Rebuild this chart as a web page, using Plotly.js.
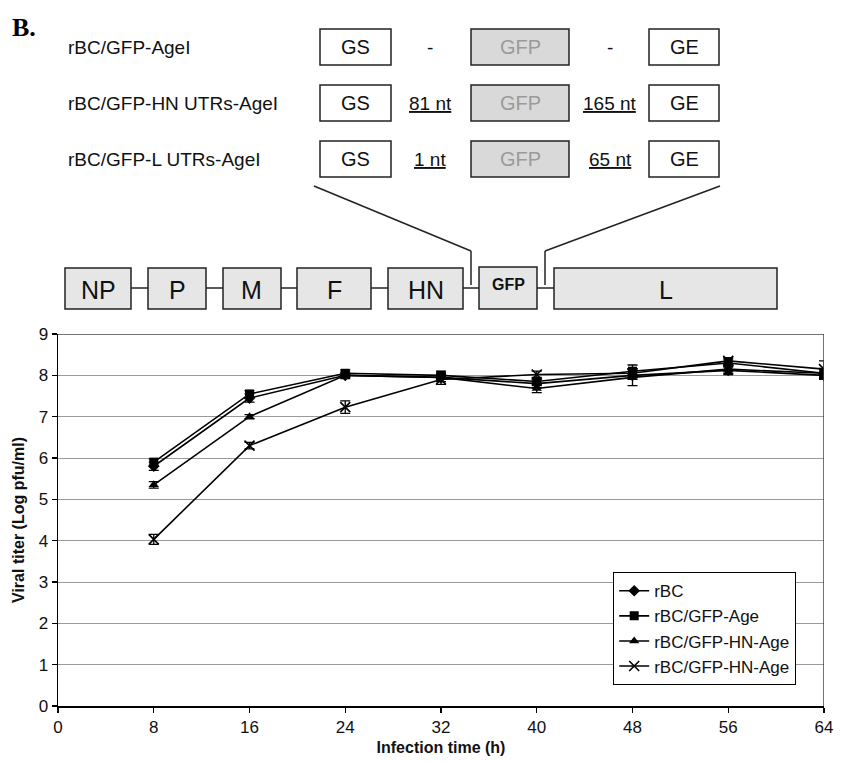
<!DOCTYPE html>
<html>
<head>
<meta charset="utf-8">
<script src="https://cdn.plot.ly/plotly-3.0.1.min.js"></script>
<style>html,body{margin:0;padding:0;background:#fff;}#chart{width:844px;height:761px;}</style>
</head>
<body>
<div id="chart"></div>
<script>
// ---- data ----
var times = [8, 16, 24, 32, 40, 48, 56, 64];
var seriesNames = ["rBC", "rBC/GFP-Age", "rBC/GFP-HN-Age", "rBC/GFP-HN-Age"];
var rBC      = [5.80, 7.45, 8.00, 7.95, 7.80, 8.00, 8.12, 8.00];
var gfpAge   = [5.90, 7.55, 8.05, 8.00, 7.85, 8.10, 8.30, 8.05];
var hnAge    = [5.35, 7.00, 8.00, 7.95, 7.68, 7.95, 8.15, 8.05];
var hnAge2   = [4.03, 6.30, 7.23, 7.90, 8.02, 8.05, 8.35, 8.15];
var rBCErr   = [0.10, 0.10, 0.08, 0.10, 0.10, 0.10, 0.10, 0.10];
var gfpErr   = [0.08, 0.08, 0.08, 0.10, 0.10, 0.15, 0.10, 0.12];
var hnErr    = [0.08, 0.05, 0.05, 0.10, 0.10, 0.20, 0.10, 0.10];
var hn2Err   = [0.12, 0.08, 0.15, 0.12, 0.08, 0.10, 0.08, 0.20];
var xTicks   = [0, 8, 16, 24, 32, 40, 48, 56, 64];
var yTicks   = [0, 1, 2, 3, 4, 5, 6, 7, 8, 9];

// diagram texts
var constructNames = ["rBC/GFP-AgeI", "rBC/GFP-HN UTRs-AgeI", "rBC/GFP-L UTRs-AgeI"];
var utr5 = ["-", "81 nt", "1 nt"];
var utr3 = ["-", "165 nt", "65 nt"];
var genes = ["NP", "P", "M", "F", "HN", "GFP", "L"];

var W = 844, H = 761;
function X(p){ return p / W; }
function Y(p){ return 1 - p / H; }

var symbols = ["diamond", "square", "triangle-up", "x-thin-open"];
var vals = [rBC, gfpAge, hnAge, hnAge2];
var errs = [rBCErr, gfpErr, hnErr, hn2Err];
var traces = vals.map(function(v, i){
  return {
    x: times, y: v, name: seriesNames[i], type: "scatter", mode: "lines+markers",
    line: {color: "#000", width: 1.6},
    marker: {symbol: symbols[i], size: i === 3 ? 10 : 9, color: "#000", line: {color: "#000", width: i === 3 ? 1.6 : 0}},
    error_y: {type: "data", array: errs[i], visible: true, color: "#000", thickness: 1.3, width: 5}
  };
});

var SANS = "Liberation Sans, Arial, sans-serif";
var shapes = [], ann = [];
function rect(x0, y0, x1, y1, fill){
  shapes.push({type: "rect", xref: "paper", yref: "paper", x0: X(x0), x1: X(x1), y0: Y(y1), y1: Y(y0),
    line: {color: "#222", width: 1.5}, fillcolor: fill, layer: "above"});
}
function seg(x0, y0, x1, y1){
  shapes.push({type: "line", xref: "paper", yref: "paper", x0: X(x0), x1: X(x1), y0: Y(y0), y1: Y(y1),
    line: {color: "#222", width: 1.5}, layer: "above"});
}
function text(t, x, y, size, opts){
  opts = opts || {};
  ann.push({text: t, xref: "paper", yref: "paper", x: X(x), y: Y(y), showarrow: false,
    xanchor: opts.xanchor || "center", yanchor: "middle",
    font: {family: opts.family || SANS, size: size, color: opts.color || "#111"}});
}

// panel letter
text("<b>B.</b>", 10, 28, 26, {xanchor: "left", family: "Liberation Serif, Times New Roman, serif", color: "#000"});

// construct rows
var rowTop = [29, 85, 141];
for (var r = 0; r < 3; r++){
  var t0 = rowTop[r], t1 = t0 + 36, cy = t0 + 18;
  text(constructNames[r], 66, cy, 19, {xanchor: "left"});
  rect(320, t0, 391, t1, "#fff");
  text("GS", 355.5, cy, 20);
  rect(471, t0, 569, t1, "#d9d9d9");
  text("GFP", 520, cy, 20, {color: "#9a9a9a"});
  rect(649, t0, 719, t1, "#fff");
  text("GE", 684, cy, 20);
  var u5 = r === 0 ? utr5[r] : "<u>" + utr5[r] + "</u>";
  var u3 = r === 0 ? utr3[r] : "<u>" + utr3[r] + "</u>";
  text(u5, 430, cy, 19);
  text(u3, 610, cy, 19);
}

// zoom lines
seg(314, 186, 471, 251); seg(471, 251, 471, 285);
seg(720, 186, 545, 251); seg(545, 251, 545, 285);

// genome
seg(131, 288, 554, 288);
var gx = [[65,131],[148,206],[223,281],[297,371],[388,463],[479,537],[554,777]];
for (var g = 0; g < genes.length; g++){
  var boxTop = genes[g] === "GFP" ? 267 : 268;
  rect(gx[g][0], boxTop, gx[g][1], 309, "#e6e6e6");
  if (genes[g] === "GFP") text("<b>GFP</b>", (gx[g][0]+gx[g][1])/2, 285, 16, {family: SANS});
  else text(genes[g], (gx[g][0]+gx[g][1])/2, 290, 25);
}

// plot border top/right (Excel style)
shapes.push({type: "line", xref: "x", yref: "y", x0: 0, x1: 64, y0: 9, y1: 9, line: {color: "#444", width: 1.5}});
shapes.push({type: "line", xref: "x", yref: "y", x0: 64, x1: 64, y0: 0, y1: 9, line: {color: "#444", width: 1.5}});

var layout = {
  width: W, height: H,
  margin: {l: 0, r: 0, t: 0, b: 0},
  paper_bgcolor: "#fff", plot_bgcolor: "#fff",
  showlegend: true,
  font: {family: SANS, color: "#111"},
  xaxis: {
    domain: [X(58), X(824)], range: [0, 64], tickvals: xTicks, ticktext: xTicks.map(String),
    showgrid: false, zeroline: false, showline: true, linecolor: "#000", linewidth: 1.5,
    ticks: "outside", ticklen: 5, tickcolor: "#000", tickwidth: 1.3,
    tickfont: {family: SANS, size: 17, color: "#111"},
    title: {text: "<b>Infection time (h)</b>", font: {family: SANS, size: 16, color: "#111"}, standoff: 6},
    fixedrange: true
  },
  yaxis: {
    domain: [Y(706), Y(334)], range: [0, 9], tickvals: yTicks,
    showgrid: true, gridcolor: "#9a9a9a", gridwidth: 1, zeroline: false,
    showline: true, linecolor: "#000", linewidth: 1.5,
    ticks: "outside", ticklen: 5, tickcolor: "#000", tickwidth: 1.3,
    tickfont: {family: SANS, size: 17, color: "#111"},
    title: {text: "<b>Viral titer (Log pfu/ml)</b>", font: {family: SANS, size: 16, color: "#111"}, standoff: 10},
    fixedrange: true
  },
  legend: {
    x: X(613), y: Y(572), xanchor: "left", yanchor: "top",
    bgcolor: "#fff", bordercolor: "#000", borderwidth: 1.2,
    font: {family: SANS, size: 17, color: "#111"},
    tracegroupgap: 0, itemwidth: 30
  },
  shapes: shapes,
  annotations: ann
};

Plotly.newPlot("chart", traces, layout, {displayModeBar: false, staticPlot: true});
</script>
</body>
</html>
